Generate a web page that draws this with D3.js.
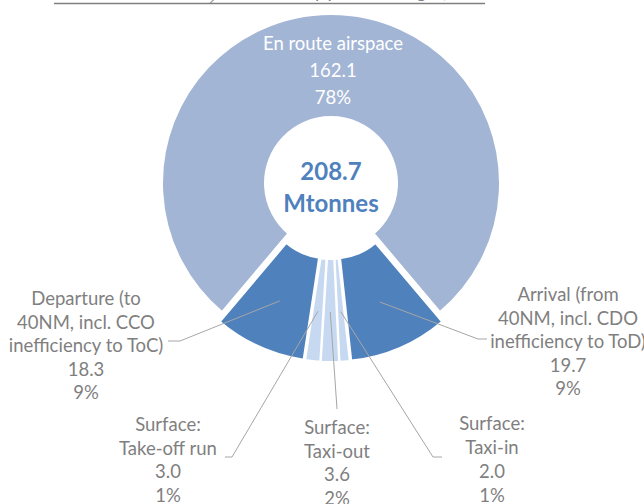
<!DOCTYPE html>
<html>
<head>
<meta charset="utf-8">
<script src="https://cdn.jsdelivr.net/npm/d3@7"></script>
<style>
    body { margin: 0; background: #fff; }
    svg { display: block; font-family: Lato, 'Open Sans', sans-serif; }
</style>
</head>
<body>
<svg id="chart" width="644" height="504"></svg>
<script>
// Data
const phases = ['En route', 'Arrival', 'Taxi-in', 'Taxi-out', 'Take-off run', 'Departure'];
const values = [162.1, 19.7, 2.0, 3.6, 3.0, 18.3];
const labelLines = [
    ['En route airspace'],
    ['Arrival (from', '40NM, incl. CDO', 'inefficiency to ToD)'],
    ['Surface:', 'Taxi-in'],
    ['Surface:', 'Taxi-out'],
    ['Surface:', 'Take-off run'],
    ['Departure (to', '40NM, incl. CCO', 'inefficiency to ToC)']
];
const colors = ['#a3b5d5', '#4f81bd', '#c6d9f1', '#c6d9f1', '#c6d9f1', '#4f81bd'];
const unit = 'Mtonnes';

// Label placement (first line centre, line height, leader elbow and end)
const labelPos = [
    { x: 333, y: 43, lh: 27, fill: '#fff' },
    { x: 568, y: 294, lh: 23.5, elbow: [478, 339], end: [487, 339] },
    { x: 492, y: 423, lh: 24, elbow: [433, 457], end: [442, 457] },
    { x: 337, y: 427, lh: 23.7, elbow: [337, 409], end: [337, 409] },
    { x: 168, y: 424, lh: 23.7, elbow: [232, 457], end: [225, 457] },
    { x: 86, y: 298, lh: 23.5, elbow: [180, 341], end: [168, 341] }
];

const svg = d3.select('#chart');
const cx = 331, cy = 188;
const outerR = 169, innerR = 66, explode = 5, leadR = 124;
const grey = '#7f7f7f';

const total = d3.sum(values);
const pct = d3.format('.0%');
const startA = -Math.PI * values[0] / total;

const pie = d3.pie().sort(null).startAngle(startA).endAngle(startA + 2 * Math.PI);
const arcs = pie(values);
const arc = d3.arc().innerRadius(innerR).outerRadius(outerR);

// Title (cut off at the top of the frame, only its underline shows)
const title = svg.append('text')
    .attr('x', 54)
    .attr('y', -2.5)
    .attr('font-size', 18.5)
    .attr('fill', grey);
title.append('tspan').text('Estimated total CO');
title.append('tspan').attr('dy', 6).attr('font-size', 12).text('2');
title.append('tspan').attr('dy', -6).text(' emissions by phase of flight, 2019');
svg.append('line')
    .attr('x1', 54).attr('x2', 485)
    .attr('y1', 3.5).attr('y2', 3.5)
    .attr('stroke', grey).attr('stroke-width', 1.5);

// Slices, each pulled out along its bisector
const g = svg.append('g').attr('transform', `translate(${cx},${cy})`);
g.selectAll('path.slice')
    .data(arcs)
    .join('path')
    .attr('class', 'slice')
    .attr('transform', d => {
        const a = (d.startAngle + d.endAngle) / 2;
        return `translate(${Math.sin(a) * explode},${-Math.cos(a) * explode})`;
    })
    .attr('d', arc)
    .attr('fill', (d, i) => colors[i])
    .attr('stroke', '#fff')
    .attr('stroke-width', 2);

// Leader lines
arcs.forEach((d, i) => {
    const p = labelPos[i];
    if (!p.elbow) return;
    const a = (d.startAngle + d.endAngle) / 2;
    const start = [cx + Math.sin(a) * leadR, cy - Math.cos(a) * leadR];
    svg.append('polyline')
        .attr('points', [start, p.elbow, p.end].map(q => q.join(',')).join(' '))
        .attr('fill', 'none')
        .attr('stroke', '#a6a6a6')
        .attr('stroke-width', 1);
});

// Data labels: name lines, value, share
arcs.forEach((d, i) => {
    const p = labelPos[i];
    const lines = labelLines[i].concat([d3.format('.1f')(values[i]), pct(values[i] / total)]);
    const t = svg.append('text')
        .attr('text-anchor', 'middle')
        .attr('font-size', 18.5)
        .attr('fill', p.fill || grey);
    lines.forEach((s, k) => {
        t.append('tspan')
            .attr('x', p.x)
            .attr('y', p.y + k * p.lh)
            .attr('dominant-baseline', 'central')
            .text(s);
    });
});

// Total in the hole
const center = svg.append('text')
    .attr('text-anchor', 'middle')
    .attr('font-size', 24)
    .attr('font-weight', 'bold')
    .attr('fill', '#4f81bd');
center.append('tspan').attr('x', cx).attr('y', 170).attr('dominant-baseline', 'central')
    .text(d3.format('.1f')(total));
center.append('tspan').attr('x', cx).attr('y', 202).attr('dominant-baseline', 'central')
    .text(unit);
</script>
</body>
</html>
